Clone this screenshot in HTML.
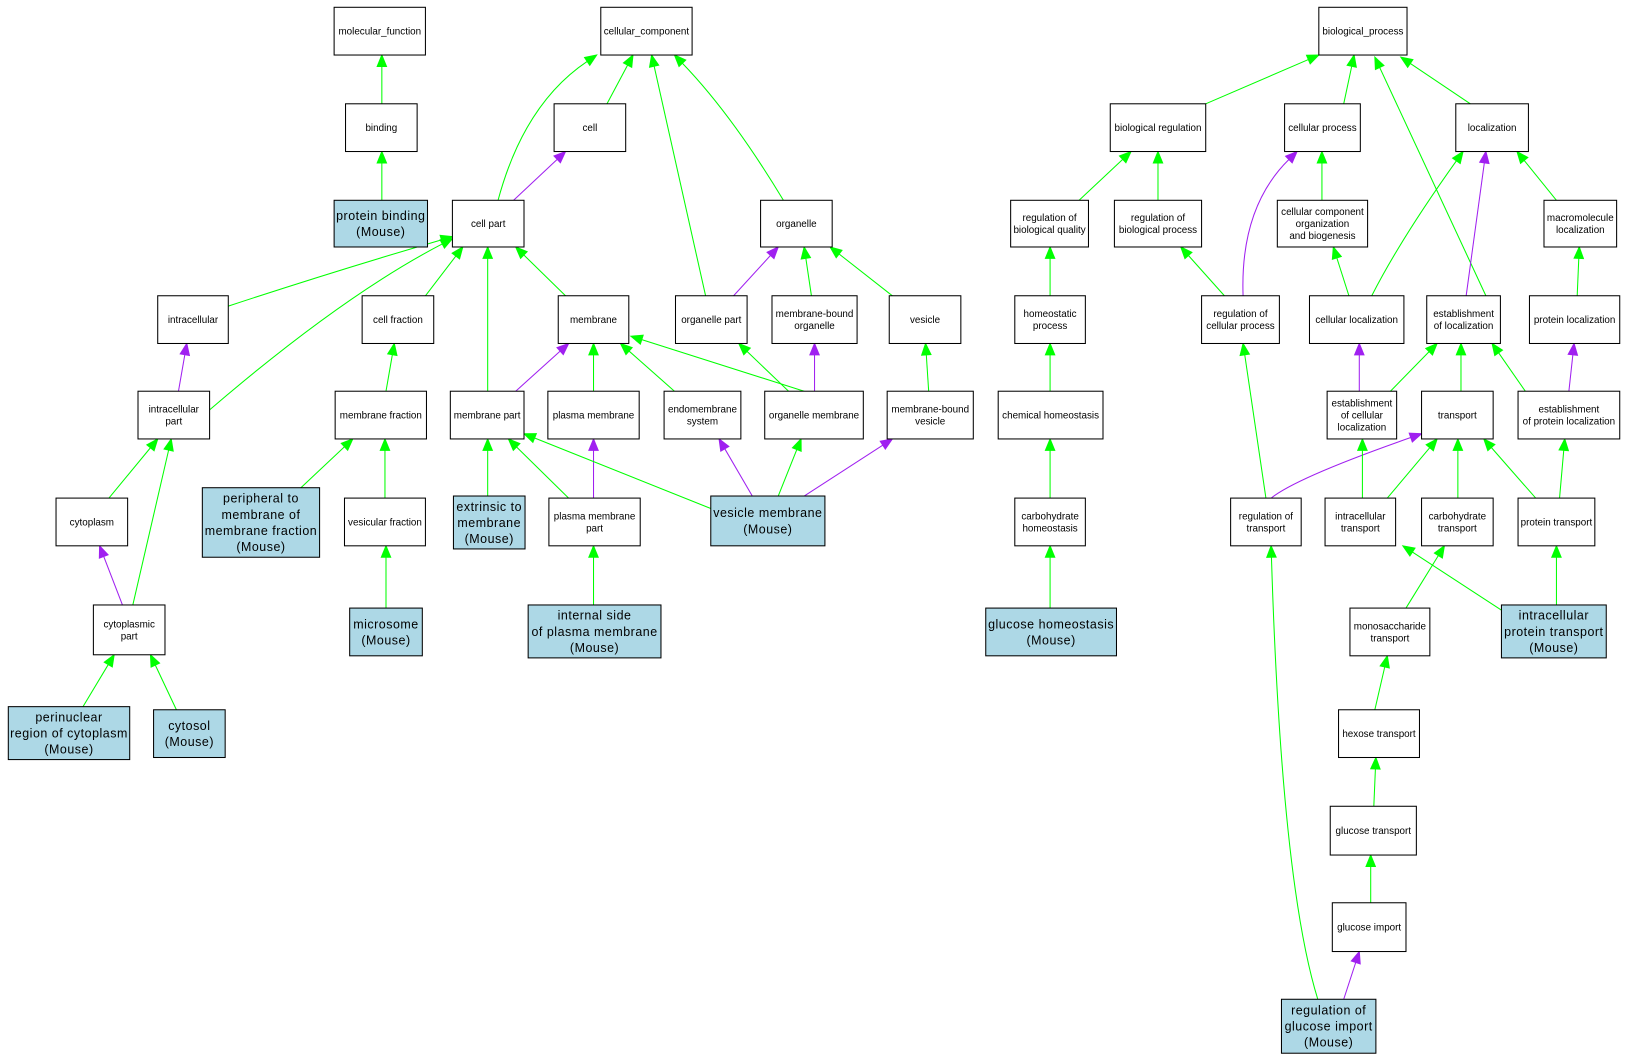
<!DOCTYPE html>
<html><head><meta charset="utf-8"><style>
html,body{margin:0;padding:0;background:#fff;}
svg{display:block;}
text{font-family:"Liberation Sans",sans-serif;fill:#000;}
</style></head><body>
<svg id="s" xmlns="http://www.w3.org/2000/svg" width="1627" height="1060" viewBox="0 0 1568 1021.5"></svg>
<script>
var s=document.getElementById('s'),NS='http://www.w3.org/2000/svg';
function el(t,a,txt){var e=document.createElementNS(NS,t);for(var k in a)e.setAttribute(k,a[k]);if(txt!=null)e.textContent=txt;s.appendChild(e);return e;}
var G='#00ff00',P='#a020f0';
function edge(x1,y1,x2,y2,c,cx,cy){
  var dx,dy;if(cx!=null){dx=x2-cx;dy=y2-cy;}else{dx=x2-x1;dy=y2-y1;}
  var L=Math.sqrt(dx*dx+dy*dy);dx/=L;dy/=L;var h=11,w=4.5;
  var bx=x2-dx*h,by=y2-dy*h;
  var d=cx!=null?'M'+x1+','+y1+' Q'+cx+','+cy+' '+bx+','+by:'M'+x1+','+y1+' L'+bx+','+by;
  el('path',{d:d,fill:'none',stroke:c,'stroke-width':1});
  el('polygon',{points:x2+','+y2+' '+(bx-dy*w)+','+(by+dx*w)+' '+(bx+dy*w)+','+(by-dx*w),fill:c,stroke:c,'stroke-width':1});
}
var E=[
[368,100,368,53,G],[368,193,368,146,G],[585,100,610,53,G],[480,193,575,53,G,505,100],[495,193,545,146,P],
[755,193,650,53,G,705,110],[680,285,628,53,G],[707,285,750,238,P],[782,285,775,238,G],[860,285,800,238,G],
[220,295,436,228,G,320,262],[172,377,180,331,P],[202,395,436,230,G,330,285],[410,285,446,238,G],[545,285,497,238,G],
[470,377,470,238,G],[372,377,380,331,G],[497,377,548,331,P],[572,377,572,331,G],[650,377,598,331,G],[775,377,608,324,G],
[760,377,712,331,G],[785,377,785,331,P],[895,377,892,331,G],[105,480,152,423,G],[128,583,165,423,G],[290,470,340,423,G],
[371,480,371,423,G],[470,478,470,423,G],[548,480,490,423,G],[572,480,572,423,P],[685,490,505,418,G],[725,478,693,423,P],
[750,478,772,423,G],[775,478,860,423,P],[118,583,96,526,P],[372,586,372,526,G],[572,583,572,526,G],[80,681,110,631,G],[170,684,145,631,G],
[1162,100,1271,53,G],[1295,100,1305,53,G],[1417,100,1350,55,G],[1432,285,1325,55,G],[1040,193,1090,146,G],[1116,193,1116,146,G],
[1274,193,1274,146,G],[1198,285,1250,146,P,1195,200],[1322,285,1410,146,G,1350,230],[1413,285,1432,146,P],[1500,193,1462,146,G],
[1012,285,1012,238,G],[1180,285,1138,238,G],[1300,285,1285,238,G],[1520,285,1522,238,G],[1012,377,1012,331,G],[1310,377,1310,331,P],
[1340,377,1385,331,G],[1408,377,1408,331,G],[1470,377,1438,331,G],[1512,377,1517,331,P],[1012,480,1012,423,G],[1220,480,1198,331,G],
[1225,480,1370,418,P,1250,460],[1313,480,1313,423,G],[1337,480,1385,423,G],[1405,480,1405,423,G],[1480,480,1430,423,G],
[1503,480,1508,423,G],[1012,586,1012,526,G],[1355,586,1392,526,G],[1450,590,1352,526,G],[1500,583,1500,526,G],[1325,684,1337,632,G],
[1324,777,1326,730,G],[1321,870,1321,824,G],[1295,963,1310,917,P],[1270,963,1225,526,G,1235,850]
];
E.forEach(function(e){edge(e[0],e[1],e[2],e[3],e[4],e[5],e[6]);});
function node(x1,y1,x2,y2,t,b){
  el('rect',{x:x1,y:y1,width:x2-x1,height:y2-y1,fill:b?'#add8e6':'#fff',stroke:'#000','stroke-width':1});
  var lines=t.split('|'),fs=b?12:9.5,lh=b?15.5:11.5,cx=(x1+x2)/2,cy=(y1+y2)/2;
  var y0=cy-(lines.length-1)*lh/2+fs*0.35;
  lines.forEach(function(l,i){el('text',{x:cx,y:y0+i*lh,'text-anchor':'middle','font-size':fs,'letter-spacing':b?'0.5':'0'},l);});
}
var N=[
[322,7,410,53,'molecular_function'],[333,100,402,146,'binding'],[322,193,412,238,'protein binding|(Mouse)',1],
[579,7,667,53,'cellular_component'],[534,100,603,146,'cell'],[436,193,505,238,'cell part'],[733,193,802,238,'organelle'],
[152,285,220,331,'intracellular'],[349,285,418,331,'cell fraction'],[538,285,606,331,'membrane'],[651,285,720,331,'organelle part'],
[744,285,826,331,'membrane-bound|organelle'],[857,285,926,331,'vesicle'],[133,377,202,423,'intracellular|part'],
[323,377,411,423,'membrane fraction'],[434,377,505,423,'membrane part'],[528,377,616,423,'plasma membrane'],
[640,377,714,423,'endomembrane|system'],[737,377,832,423,'organelle membrane'],[855,377,938,423,'membrane-bound|vesicle'],
[54,480,123,526,'cytoplasm'],[195,470,308,537,'peripheral to|membrane of|membrane fraction|(Mouse)',1],[332,480,410,526,'vesicular fraction'],
[437,478,506,529,'extrinsic to|membrane|(Mouse)',1],[529,480,617,526,'plasma membrane|part'],[685,478,795,526,'vesicle membrane|(Mouse)',1],
[90,583,159,631,'cytoplasmic|part'],[337,586,407,632,'microsome|(Mouse)',1],[509,583,637,634,'internal side|of plasma membrane|(Mouse)',1],
[8,681,125,732,'perinuclear|region of cytoplasm|(Mouse)',1],[148,684,217,730,'cytosol|(Mouse)',1],
[1271,7,1356,53,'biological_process'],[1070,100,1162,146,'biological regulation'],[1238,100,1311,146,'cellular process'],
[1403,100,1473,146,'localization'],[974,193,1049,238,'regulation of|biological quality'],[1074,193,1158,238,'regulation of|biological process'],
[1231,193,1318,238,'cellular component|organization|and biogenesis'],[1488,193,1558,238,'macromolecule|localization'],
[978,285,1046,331,'homeostatic|process'],[1158,285,1233,331,'regulation of|cellular process'],[1262,285,1353,331,'cellular localization'],
[1375,285,1446,331,'establishment|of localization'],[1474,285,1561,331,'protein localization'],[962,377,1063,423,'chemical homeostasis'],
[1279,377,1346,423,'establishment|of cellular|localization'],[1370,377,1439,423,'transport'],[1463,377,1561,423,'establishment|of protein localization'],
[978,480,1046,526,'carbohydrate|homeostasis'],[1186,480,1254,526,'regulation of|transport'],[1277,480,1345,526,'intracellular|transport'],
[1370,480,1439,526,'carbohydrate|transport'],[1463,480,1537,526,'protein transport'],[950,586,1076,632,'glucose homeostasis|(Mouse)',1],
[1301,586,1378,632,'monosaccharide|transport'],[1447,583,1548,634,'intracellular|protein transport|(Mouse)',1],
[1290,684,1368,730,'hexose transport'],[1282,777,1365,824,'glucose transport'],[1284,870,1355,917,'glucose import'],
[1235,963,1326,1015,'regulation of|glucose import|(Mouse)',1]
];
N.forEach(function(n){node(n[0],n[1],n[2],n[3],n[4],n[5]);});
</script>
</body></html>
